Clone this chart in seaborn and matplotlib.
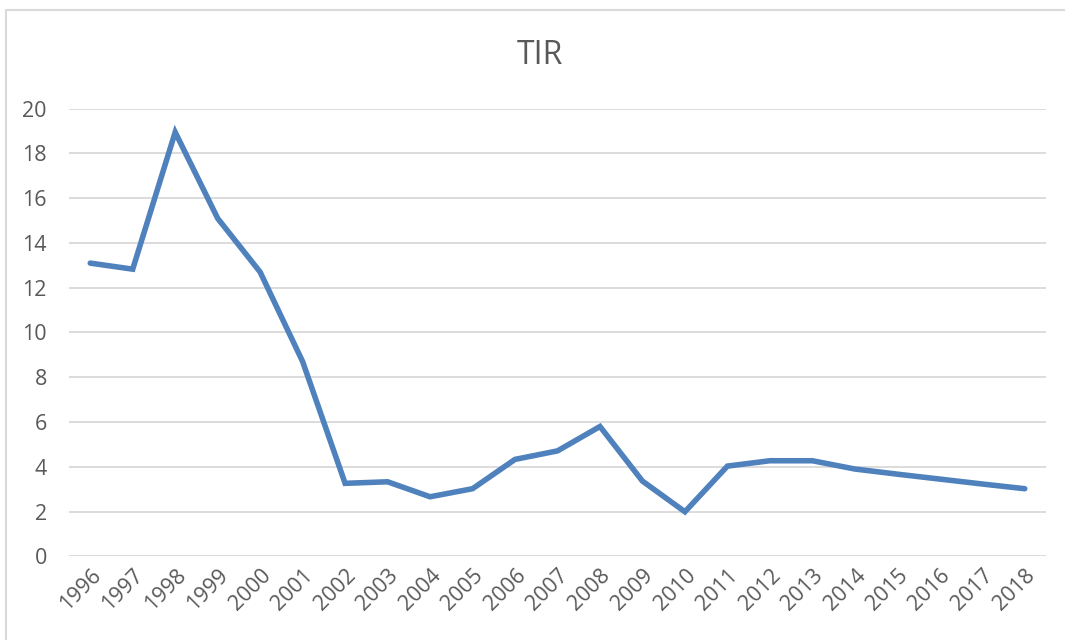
import matplotlib
matplotlib.use("Agg")
import matplotlib.pyplot as plt
import seaborn as sns
import pandas as pd
from matplotlib.lines import Line2D

years = [str(y) for y in range(1996, 2019)]
tir = [13.1, 12.83, 18.95, 15.1, 12.7, 8.7, 3.26, 3.33, 2.66, 3.02, 4.33, 4.71,
       5.8, 3.36, 1.99, 4.03, 4.27, 4.27, 3.9, 3.67, 3.45, 3.23, 3.02]
yticks = [0, 2, 4, 6, 8, 10, 12, 14, 16, 18, 20]

df = pd.DataFrame({"year": years, "TIR": tir})

sns.set_style("white")
plt.rcParams['font.family'] = ['Open Sans', 'DejaVu Sans']

W, H = 1065, 640
fig = plt.figure(figsize=(W / 100, H / 100), dpi=100)
ax = fig.add_axes([69 / W, 1 - 556.3 / H, (1046 - 69) / W, (556.3 - 108.7) / H])

xpos = list(range(len(years)))
df["x"] = xpos
sns.lineplot(data=df, x="x", y="TIR", ax=ax, color="#4F81BD", linewidth=4.0,
             solid_joinstyle="miter", solid_capstyle="round")

ax.set_xlim(-0.5, len(years) - 0.5)
ax.set_ylim(0, 20)
ax.set_yticks(yticks)
ax.set_yticklabels([str(v) for v in yticks])
ax.set_xticks(xpos)
ax.set_xticklabels(years, rotation=45, ha="right", rotation_mode="anchor")
ax.tick_params(axis="both", colors="#595959", labelsize=15.5, length=0)
ax.tick_params(axis="y", pad=16)
ax.tick_params(axis="x", pad=6)
ax.grid(axis="y", color="#d9d9d9", linewidth=1.3)
ax.set_axisbelow(True)
for s in ax.spines.values():
    s.set_visible(False)
ax.set_xlabel("")
ax.set_ylabel("")

fig.text(540 / W, 1 - 55 / H, "TIR", ha="center", va="center", fontsize=23, color="#595959")

# chart border (left and top visible)
fig.add_artist(Line2D([6 / W, 6 / W], [0, 1 - 10 / H], transform=fig.transFigure,
                      color="#d9d9d9", linewidth=1.5))
fig.add_artist(Line2D([6 / W, 1], [1 - 10 / H, 1 - 10 / H], transform=fig.transFigure,
                      color="#d9d9d9", linewidth=1.5))

fig.savefig("out.png", dpi=100)
